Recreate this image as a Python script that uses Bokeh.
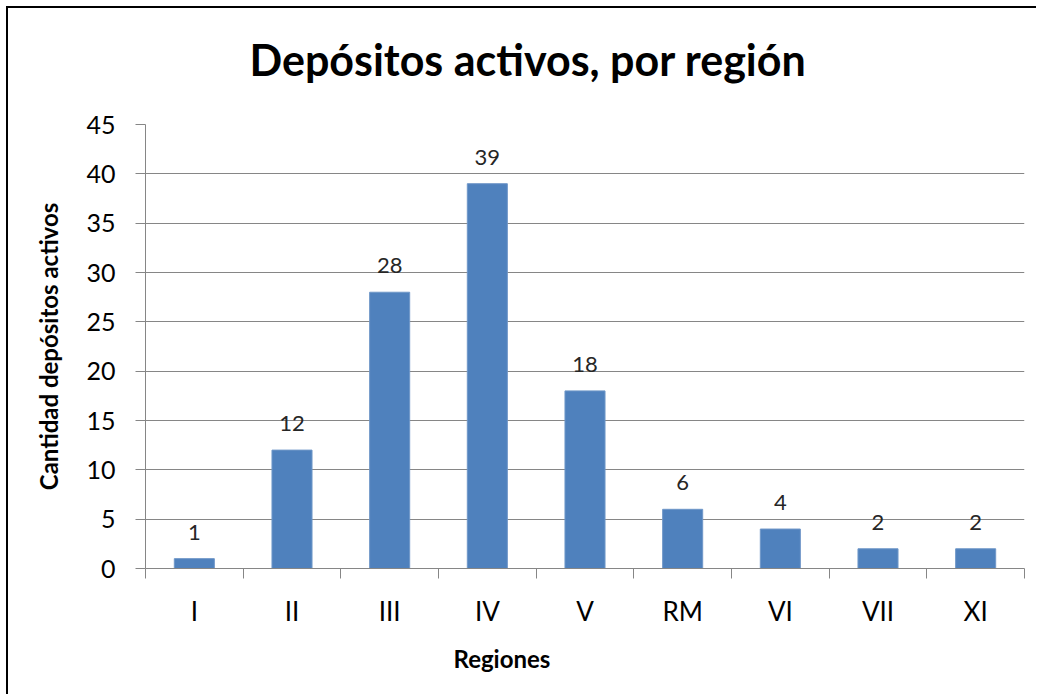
from bokeh.plotting import figure
from bokeh.models import Range1d, FixedTicker, Title
from bokeh.core.properties import value
from bokeh.embed import file_html
from bokeh.resources import INLINE

regions = ["I", "II", "III", "IV", "V", "RM", "VI", "VII", "XI"]
counts = [1, 12, 28, 39, 18, 6, 4, 2, 2]
y_ticks = [0, 5, 10, 15, 20, 25, 30, 35, 40, 45]
title_text = "Depósitos activos, por región"
x_label = "Regiones"
y_label = "Cantidad depósitos activos"

FONT = "Lato"
GRAY = "#868686"

centers = [i + 0.5 for i in range(len(regions))]
boundaries = list(range(len(regions) + 1))

p = figure(width=1030, height=688, output_backend="svg", toolbar_location=None,
           x_range=Range1d(0, len(regions)), y_range=Range1d(0, y_ticks[-1]),
           min_border_left=137, min_border_right=14, min_border_top=10,
           min_border_bottom=128)
p.styles = {"margin-left": "6px", "margin-top": "6px",
            "border-left": "2px solid black", "border-top": "2px solid black"}
p.outline_line_color = None
p.background_fill_color = "white"
p.border_fill_color = "white"

# spacer between title and plot area (added first = closest to the frame)
p.add_layout(Title(text=" ", text_font_size="2px", standoff=13), "above")
p.add_layout(Title(text=title_text, align="left", offset=104, text_font=FONT,
                   text_font_size="43px", text_font_style="bold",
                   text_color="black", standoff=46), "above")

p.xgrid.visible = False
p.ygrid.grid_line_color = GRAY
p.ygrid.grid_line_width = 1

ya = p.yaxis[0]
ya.ticker = FixedTicker(ticks=y_ticks)
ya.axis_line_color = GRAY
ya.major_tick_line_color = GRAY
ya.major_tick_out = 10
ya.major_tick_in = 0
ya.minor_tick_line_color = None
ya.major_label_text_font = FONT
ya.major_label_text_font_size = "25px"
ya.major_label_text_color = "black"
ya.major_label_standoff = 20
ya.axis_label = y_label
ya.axis_label_text_font = FONT
ya.axis_label_text_font_size = "24px"
ya.axis_label_text_font_style = "bold"
ya.axis_label_text_color = "black"
ya.axis_label_standoff = 20

xa = p.xaxis[0]
xa.ticker = FixedTicker(ticks=centers, minor_ticks=boundaries)
xa.major_label_overrides = {c: r for c, r in zip(centers, regions)}
xa.axis_line_color = GRAY
xa.major_tick_out = 0
xa.major_tick_in = 0
xa.major_tick_line_color = None
xa.minor_tick_line_color = GRAY
xa.minor_tick_out = 10
xa.minor_tick_in = 0
xa.major_label_text_font = FONT
xa.major_label_text_font_size = "26px"
xa.major_label_text_color = "black"
xa.major_label_standoff = 16

p.add_layout(Title(text=x_label, align="left", offset=308, text_font=FONT,
                   text_font_size="24px", text_font_style="bold",
                   text_color="black", standoff=24), "below")

p.vbar(x=centers, top=counts, width=0.41, bottom=0, fill_color="#4F81BD",
       line_color="#6F97C8", line_width=1)
p.text(x=centers, y=counts, text=[str(c) for c in counts], text_align="center",
       text_baseline="bottom", y_offset=-19, text_font=value(FONT),
       text_font_size="22px", text_color="#262626")

open("out.html", "w").write(file_html(p, INLINE))
